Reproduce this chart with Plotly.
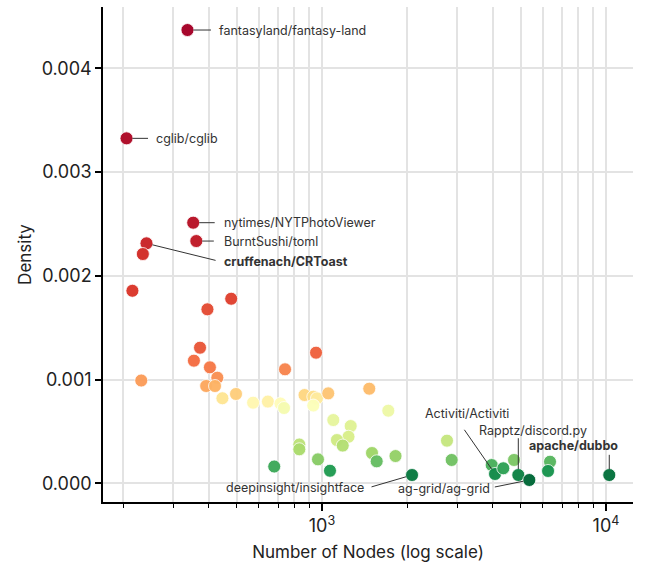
import numpy as np
import plotly.graph_objects as go

# ---- data ----
nodes = [336, 205, 352, 361, 241, 234, 215, 395, 479, 372,
         354, 403, 428, 391, 420, 231, 446, 498, 572, 645,
         714, 735, 741, 953, 868, 932, 960, 932, 1052, 1467,
         1712, 1096, 1262, 1240, 1129, 1183, 832, 832, 968, 1500,
         1558, 1815, 2755, 2862, 679, 1067, 2075, 3959, 4067, 4349,
         4745, 4912, 5370, 6352, 6251, 10270]
density = [4.369e-3, 3.325e-3, 2.512e-3, 2.335e-3, 2.313e-3, 2.210e-3, 1.856e-3, 1.677e-3, 1.779e-3, 1.307e-3,
           1.182e-3, 1.118e-3, 1.018e-3, 0.938e-3, 0.938e-3, 0.991e-3, 0.820e-3, 0.861e-3, 0.777e-3, 0.788e-3,
           0.769e-3, 0.726e-3, 1.099e-3, 1.259e-3, 0.851e-3, 0.835e-3, 0.819e-3, 0.750e-3, 0.867e-3, 0.912e-3,
           0.700e-3, 0.610e-3, 0.552e-3, 0.449e-3, 0.417e-3, 0.364e-3, 0.374e-3, 0.328e-3, 0.231e-3, 0.292e-3,
           0.212e-3, 0.263e-3, 0.411e-3, 0.225e-3, 0.162e-3, 0.121e-3, 0.080e-3, 0.176e-3, 0.090e-3, 0.145e-3,
           0.225e-3, 0.080e-3, 0.032e-3, 0.208e-3, 0.119e-3, 0.080e-3]
repo_names = {0: "fantasyland/fantasy-land", 1: "cglib/cglib", 2: "nytimes/NYTPhotoViewer",
              3: "BurntSushi/toml", 4: "cruffenach/CRToast", 48: "Activiti/Activiti",
              51: "Rapptz/discord.py", 55: "apache/dubbo", 46: "deepinsight/insightface",
              52: "ag-grid/ag-grid"}
bold_names = ["cruffenach/CRToast", "apache/dubbo"]

x_major = [1000, 10000]
x_major_text = ["10<sup>3</sup>", "10<sup>4</sup>"]
x_minor = [200, 300, 400, 500, 600, 700, 800, 900, 2000, 3000, 4000, 5000, 6000, 7000, 8000, 9000]
y_ticks = [0.0, 0.001, 0.002, 0.003, 0.004]

# ---- label placement (pixel offsets) ----
# idx: (xanchor, xshift, yshift, arrow_ax, arrow_ay)
label_style = {
    0: ("left", 30, 0, 25, 0),
    1: ("left", 27, 0, 23, 0),
    2: ("left", 29, 0, 23, 0),
    3: ("left", 26, 0, 19, 0),
    4: ("left", 76, -18.4, 70.6, 17.4),
    48: ("center", -28.5, 60, -31.7, -45.7),
    51: ("center", 14.7, 45, 0, -38.3),
    55: ("center", -36, 30, 0, -21.7),
    46: ("right", -46.3, -12.3, -42, 12.3),
    52: ("right", -37.6, -8.3, -36, 7.3),
}

dens = np.array(density)
rank = dens.argsort().argsort()  # 0 = lowest density

FONT = "Inter, 'Noto Sans', sans-serif"

fig = go.Figure()
fig.add_trace(go.Scatter(
    x=nodes, y=density, mode="markers",
    marker=dict(size=13, color=rank, colorscale="RdYlGn_r",
                cmin=0, cmax=len(density) - 1,
                line=dict(color="white", width=0.8), opacity=0.97),
    hoverinfo="x+y", showlegend=False,
))

for idx, name in repo_names.items():
    xa, xs, ys, ax, ay = label_style[idx]
    lx = np.log10(nodes[idx])
    ly = density[idx]
    fig.add_annotation(x=lx, y=ly, xref="x", yref="y", text="", showarrow=True,
                       ax=ax, ay=ay, axref="pixel", ayref="pixel",
                       arrowhead=0, arrowwidth=1, arrowcolor="#333333", standoff=6)
    txt = f"<b>{name}</b>" if name in bold_names else name
    fig.add_annotation(x=lx, y=ly, xref="x", yref="y", text=txt, showarrow=False,
                       xanchor=xa, yanchor="middle", xshift=xs, yshift=ys,
                       font=dict(family=FONT, size=12.5, color="#333333"))

fig.update_layout(
    width=647, height=565,
    margin=dict(l=103, r=14, t=7, b=63),
    paper_bgcolor="white", plot_bgcolor="white",
    font=dict(family=FONT, color="#222222"),
    xaxis=dict(
        type="log", range=[2.2289, 4.0951], automargin=False,
        tickmode="array", tickvals=x_major, ticktext=x_major_text,
        tickfont=dict(size=18, color="#222222"),
        ticks="outside", ticklen=7, tickwidth=1.5, tickcolor="black",
        showgrid=True, gridcolor="#e3e3e3", gridwidth=1.5,
        minor=dict(tickmode="array", tickvals=x_minor, ticks="outside", ticklen=4,
                   tickwidth=1, tickcolor="black", showgrid=True,
                   gridcolor="#e3e3e3", gridwidth=1.5),
        showline=True, linecolor="black", linewidth=1.5, zeroline=False,
        title=dict(text="Number of Nodes (log scale)", font=dict(size=17, color="#222222"), standoff=11),
    ),
    yaxis=dict(
        range=[-0.000180, 0.004591], automargin=False,
        tickmode="array", tickvals=y_ticks, tickformat=".3f",
        tickfont=dict(size=18, color="#222222"),
        ticks="outside", ticklen=6, tickwidth=1.5, tickcolor="black",
        showgrid=True, gridcolor="#e3e3e3", gridwidth=1.5,
        showline=True, linecolor="black", linewidth=1.5, zeroline=False,
        title=dict(text="Density", font=dict(size=17, color="#222222"), standoff=6),
    ),
)

fig.write_html("out.html", config={"displayModeBar": False},
               post_script="document.body.style.margin='0';")
